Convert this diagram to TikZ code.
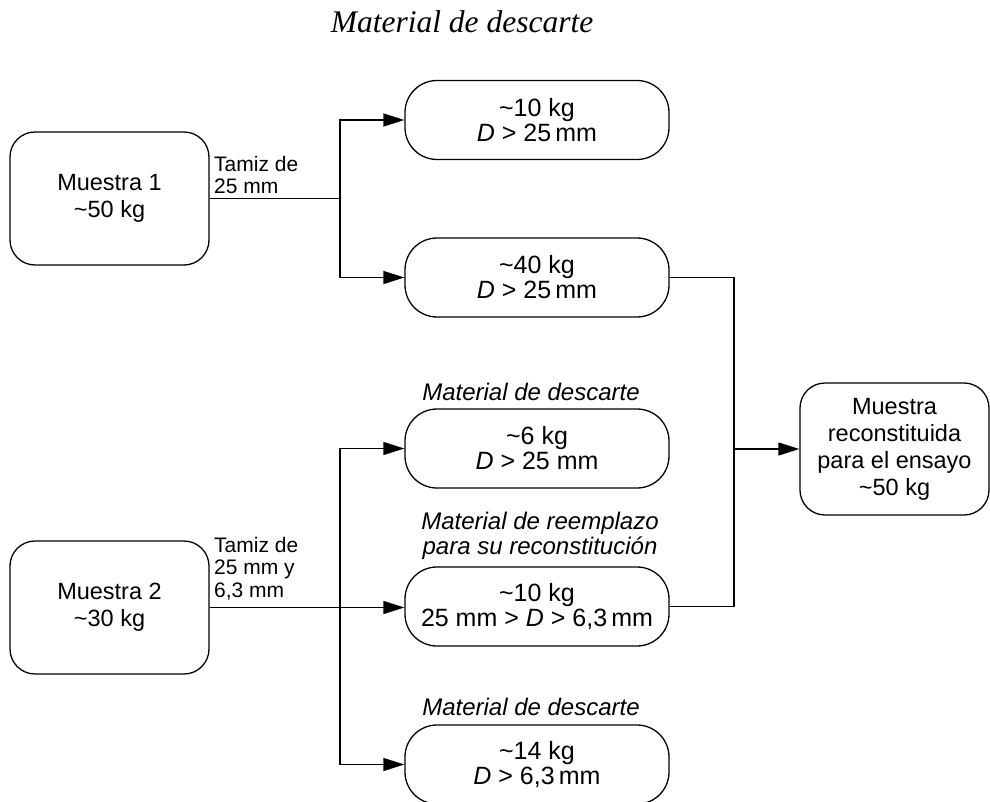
\documentclass[tikz,border=0pt]{standalone}
\usepackage{fontspec}
\setmainfont{Liberation Sans}
\newfontfamily\serifit{Liberation Serif}
\usetikzlibrary{arrows.meta}
\begin{document}
\begin{tikzpicture}[x=1pt,y=-1pt,
  every node/.style={inner sep=0pt},
  big/.style={draw, line width=1.3pt, rounded corners=25pt, align=center, font=\fontsize{23.5}{27}\selectfont},
  capbox/.style={draw, line width=1.3pt, rounded corners=32pt, minimum width=264pt, minimum height=79pt, align=center, font=\fontsize{25}{25}\selectfont},
  lbl/.style={align=left, anchor=south west, font=\fontsize{21}{22.5}\selectfont},
  note/.style={align=center, font=\fontsize{24}{25}\selectfont\itshape},
  conn/.style={line width=1.3pt},
  arr/.style={conn, -{Triangle[length=21pt,width=13pt]}}
]
\useasboundingbox (0,0) rectangle (990,802);

\node[font=\serifit\itshape\fontsize{31.5}{35}\selectfont, anchor=base] (title) at (462,33) {Material de descarte};

\node[big, minimum width=199pt, minimum height=133pt] (m1) at (109.5,198.5) {Muestra 1\\\textasciitilde50 kg};
\node[big, minimum width=199pt, minimum height=133pt] (m2) at (109.5,607.5) {Muestra 2\\\textasciitilde30 kg};
\node[big, minimum width=189pt, minimum height=132pt] (fin) at (894.5,449) {Muestra\\reconstituida\\para el ensayo\\\textasciitilde50 kg};

\node[capbox] (b1) at (537,120) {\textasciitilde10 kg\\\textit{D} > 25\,mm};
\node[capbox] (b2) at (537,277.5) {\textasciitilde40 kg\\\textit{D} > 25\,mm};
\node[capbox] (b3) at (537,448.5) {\textasciitilde6 kg\\\textit{D} > 25 mm};
\node[capbox] (b4) at (537,606.5) {\textasciitilde10 kg\\25 mm > \textit{D} > 6,3\,mm};
\node[capbox] (b5) at (537,764.5) {\textasciitilde14 kg\\\textit{D} > 6,3\,mm};

\node[note, anchor=base] (n3) at (531,400) {Material de descarte};
\node[note, anchor=south] (n4) at (540,560) {Material de reemplazo\\para su reconstitución};
\node[note, anchor=base] (n5) at (531,715) {Material de descarte};

\node[lbl] (t1) at (214,194) {Tamiz de\\25 mm};
\node[lbl] (t2) at (214,600) {Tamiz de\\25 mm y\\6,3 mm};

\coordinate (j1) at (340,198.5);
\coordinate (j2) at (340,607.5);
\coordinate (j3) at (734,449);

\draw[conn] (m1.east) -- (j1);
\draw[arr] (j1) |- (b1.west);
\draw[arr] (j1) |- (b2.west);

\draw[arr] (m2.east) -- (j2 -| b4.west);
\draw[arr] (j2) |- (b3.west);
\draw[arr] (j2) |- (b5.west);

\draw[conn] (b2.east) -| (j3);
\draw[conn] (b4.east) -| (j3);
\draw[arr] (j3) -- (fin.west);
\end{tikzpicture}
\end{document}
